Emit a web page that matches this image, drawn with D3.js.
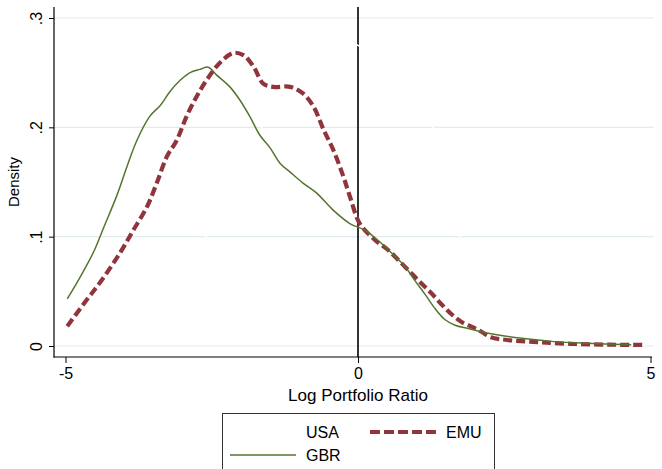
<!DOCTYPE html>
<meta charset="utf-8">
<style>
body { margin: 0; background: #fff; }
text { font-family: "Liberation Sans", Arial, Helvetica, sans-serif; fill: #000; }
.grid { stroke: #e3ecec; stroke-width: 1.2px; }
.axis path { display: none; }
.axis line { stroke: #000; stroke-width: 1px; }
.axis text { font-size: 16px; }
</style>
<body>
<script src="https://cdn.jsdelivr.net/npm/d3@7/dist/d3.min.js"></script>
<script>

var width = 662,
    height = 469;

// kernel density estimates
var gbrX = [-4.97, -4.75, -4.52, -4.35, -4.12, -3.95, -3.78, -3.56, -3.38, -3.21, -3.04, -2.87, -2.7, -2.56,
            -2.42, -2.19, -2.02, -1.85, -1.68, -1.5, -1.33, -1.16, -0.94, -0.71, -0.42, -0.14, 0.12, 0.29, 0.46, 0.63,
            0.8, 0.97, 1.15, 1.32, 1.49, 1.66, 1.88, 2.11, 2.3, 2.8, 3.35, 3.9, 4.67];
var gbrY = [0.043, 0.063, 0.086, 0.108, 0.138, 0.164, 0.188, 0.210, 0.220, 0.233, 0.243, 0.250, 0.253, 0.255,
            0.248, 0.237, 0.225, 0.210, 0.193, 0.181, 0.167, 0.159, 0.149, 0.140, 0.124, 0.112, 0.106, 0.099, 0.091, 0.082,
            0.073, 0.060, 0.047, 0.034, 0.024, 0.019, 0.016, 0.013, 0.011, 0.007, 0.004, 0.0025, 0.0012];

var emuX = [-4.97, -4.64, -4.41, -4.07, -3.84, -3.61, -3.44, -3.27, -3.1, -2.93, -2.76, -2.59, -2.36, -2.13, -1.96,
            -1.79, -1.62, -1.45, -1.16, -0.94, -0.76, -0.59, -0.42, -0.25, -0.14, 0.03, 0.29, 0.51, 0.72,
            0.92, 1.09, 1.26, 1.43, 1.6, 1.77, 1.97, 2.11, 2.27, 2.55, 3.06, 3.64, 4.3, 4.92];
var emuY = [0.018, 0.042, 0.058, 0.085, 0.106, 0.127, 0.149, 0.173, 0.188, 0.210, 0.228, 0.243, 0.259, 0.268, 0.266,
            0.256, 0.240, 0.237, 0.237, 0.231, 0.219, 0.198, 0.179, 0.155, 0.137, 0.112, 0.097, 0.088, 0.077,
            0.066, 0.057, 0.048, 0.038, 0.029, 0.022, 0.017, 0.013, 0.008, 0.0055, 0.0035, 0.002, 0.0012, 0.001];

// USA is drawn in white in the original, only visible where it cuts the grid
var usaX = [-4.9, -4.2, -3.5, -3.0, -2.6, -2.0, -1.4, -0.8, -0.3, 0.0, 0.5, 1.0, 1.28, 1.75, 2.3, 3.0, 4.0, 4.9];
var usaY = [0.004, 0.015, 0.040, 0.068, 0.100, 0.160, 0.225, 0.268, 0.280, 0.275, 0.252, 0.218, 0.200, 0.100, 0.040, 0.012, 0.003, 0.001];

var yTicks = [0, 0.1, 0.2, 0.3],
    yTickLabels = ["0", ".1", ".2", ".3"],
    xTicks = [-5, 0, 5];

var x = d3.scaleLinear().domain([-5, 5]).range([65.5, 650.5]);
var y = d3.scaleLinear().domain([0, 0.3]).range([346, 18]);

var svg = d3.select("body").append("svg")
    .attr("width", width)
    .attr("height", height);

// grid
svg.selectAll(".grid")
    .data(yTicks)
  .enter().append("line")
    .attr("class", "grid")
    .attr("x1", 54).attr("x2", 654)
    .attr("y1", function(d) { return y(d); })
    .attr("y2", function(d) { return y(d); });

// xline(0)
svg.append("line")
    .attr("x1", x(0)).attr("x2", x(0))
    .attr("y1", 7).attr("y2", 357)
    .attr("stroke", "#000").attr("stroke-width", 1.6);

function line(xs, ys) {
  return d3.line()
      .x(function(d, i) { return x(xs[i]); })
      .y(function(d) { return y(d); })
      .curve(d3.curveCatmullRom.alpha(0.5))(ys);
}

svg.append("path")
    .attr("d", line(usaX, usaY))
    .attr("fill", "none").attr("stroke", "#fff").attr("stroke-width", 1.6);

svg.append("path")
    .attr("d", line(emuX, emuY))
    .attr("fill", "none").attr("stroke", "#90353b").attr("stroke-width", 4.2)
    .attr("stroke-dasharray", "9,4");

svg.append("path")
    .attr("d", line(gbrX, gbrY))
    .attr("fill", "none").attr("stroke", "#55752f").attr("stroke-width", 1.5);

// axes
svg.append("line").attr("x1", 54).attr("x2", 54).attr("y1", 7).attr("y2", 357.5)
    .attr("stroke", "#000").attr("stroke-width", 1.2);
svg.append("line").attr("x1", 53.5).attr("x2", 652).attr("y1", 357).attr("y2", 357)
    .attr("stroke", "#000").attr("stroke-width", 1.2);

var yAxis = svg.append("g")
    .attr("class", "axis")
    .attr("transform", "translate(54,0)")
    .call(d3.axisLeft(y).tickValues(yTicks).tickSize(5).tickPadding(0)
        .tickFormat(function(d, i) { return yTickLabels[i]; }));
yAxis.selectAll("text")
    .attr("x", 0).attr("dy", 0)
    .attr("text-anchor", "middle")
    .attr("transform", "translate(-12,0) rotate(-90)");

svg.append("g")
    .attr("class", "axis")
    .attr("transform", "translate(0,357)")
    .call(d3.axisBottom(x).tickValues(xTicks).tickSize(6).tickPadding(5)
        .tickFormat(function(d) { return String(d); }));

svg.append("text")
    .attr("transform", "translate(19,182) rotate(-90)")
    .attr("text-anchor", "middle")
    .style("font-size", "15px")
    .text("Density");

svg.append("text")
    .attr("x", x(0)).attr("y", 401)
    .attr("text-anchor", "middle")
    .style("font-size", "17px")
    .text("Log Portfolio Ratio");

// legend
var legend = svg.append("g");
legend.append("rect")
    .attr("x", 222.5).attr("y", 413.5).attr("width", 272).attr("height", 70)
    .attr("fill", "#fff").attr("stroke", "#333").attr("stroke-width", 1);

var items = [
  {name: "USA", color: "#fff", w: 1.6, dash: null, lx: 230, ly: 432},
  {name: "EMU", color: "#90353b", w: 4.2, dash: "10,4", lx: 370, ly: 432},
  {name: "GBR", color: "#55752f", w: 1.5, dash: null, lx: 230, ly: 455}
];
items.forEach(function(d) {
  legend.append("line")
      .attr("x1", d.lx).attr("x2", d.lx + 66)
      .attr("y1", d.ly).attr("y2", d.ly)
      .attr("stroke", d.color).attr("stroke-width", d.w)
      .attr("stroke-dasharray", d.dash);
  legend.append("text")
      .attr("x", d.lx + 76).attr("y", d.ly + 6)
      .style("font-size", "16px")
      .text(d.name);
});

</script>
